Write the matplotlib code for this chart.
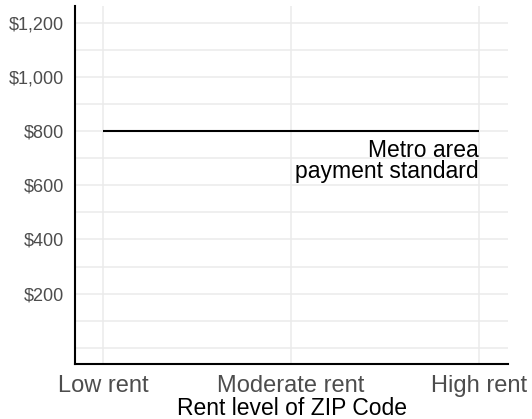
import matplotlib.pyplot as plt
from matplotlib.ticker import FuncFormatter, MultipleLocator

plt.rcParams['font.family'] = ['Liberation Sans', 'DejaVu Sans']

# rent levels on the x axis
rent_levels = ["Low rent", "Moderate rent", "High rent"]
payment_standard = [800, 800, 800]
y_ticks = [200, 400, 600, 800, 1000, 1200]

fig = plt.figure(figsize=(5.32, 4.19), dpi=100)
ax = fig.add_axes([0.141, 0.131, 0.814, 0.855])

x = list(range(len(rent_levels)))
ax.plot(x, payment_standard, color="black", lw=1.5, solid_capstyle="butt")

ax.text(x[-1], payment_standard[-1] - 30, "Metro area\npayment standard",
        ha="right", va="top", fontsize=16.5, color="black",
        linespacing=0.88)

ax.set_xlim(-0.15, 2.155)
ax.set_ylim(-60, 1262)
ax.set_xticks(x)
ax.set_xticklabels(rent_levels)
ax.set_yticks(y_ticks)
ax.yaxis.set_minor_locator(MultipleLocator(100))
ax.yaxis.set_major_formatter(FuncFormatter(lambda v, p: "${:,.0f}".format(v)))

ax.grid(True, which="both", color="#ebebeb", lw=1.1)
ax.set_axisbelow(True)
for s in ["top", "right"]:
    ax.spines[s].set_visible(False)
for s in ["left", "bottom"]:
    ax.spines[s].set_linewidth(1.5)
    ax.spines[s].set_color("black")

ax.tick_params(axis="both", which="both", length=0)
ax.tick_params(axis="x", labelsize=17, labelcolor="#4d4d4d", pad=8)
ax.tick_params(axis="y", labelsize=13, labelcolor="#4d4d4d", pad=8)
ax.set_xlabel("Rent level of ZIP Code", fontsize=16.5, color="black", labelpad=0)

fig.savefig("out.png", dpi=100)
